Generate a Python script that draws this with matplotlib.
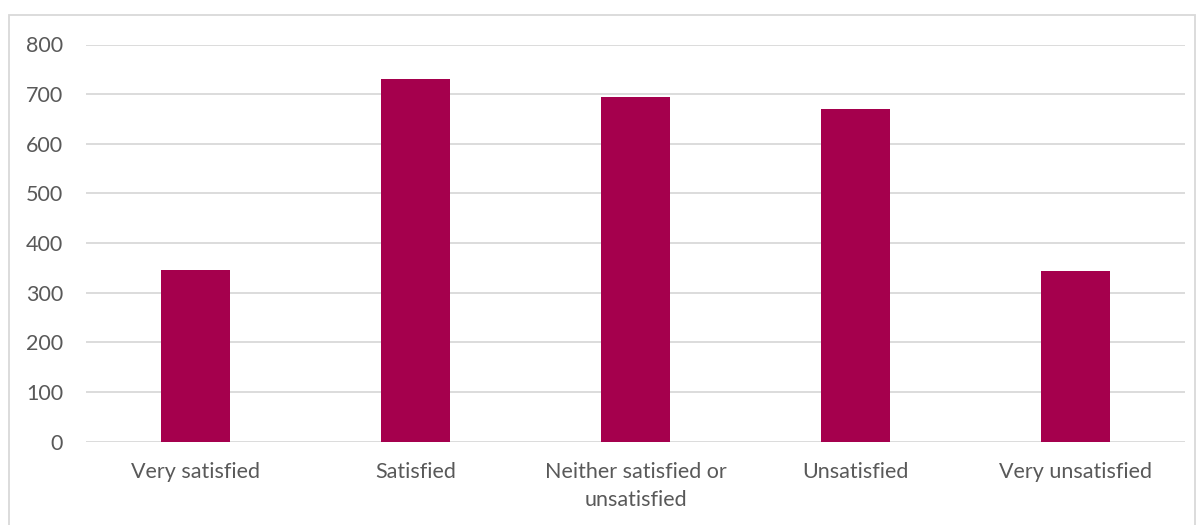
import matplotlib
matplotlib.use("Agg")
import matplotlib.pyplot as plt
from matplotlib.patches import Rectangle

categories = ["Very satisfied", "Satisfied", "Neither satisfied or\nunsatisfied",
              "Unsatisfied", "Very unsatisfied"]
responses = [345, 730, 695, 670, 344]
y_ticks = [0, 100, 200, 300, 400, 500, 600, 700, 800]

W, H = 1203, 525
fig = plt.figure(figsize=(W / 100, H / 100), dpi=100)
plt.rcParams['font.family'] = ['Lato', 'DejaVu Sans']

# chart frame
fig.patches.append(Rectangle((9 / W, -0.05), (1195 - 9) / W, 1 - 15 / H + 0.05,
                             transform=fig.transFigure, fill=False,
                             edgecolor="#d9d9d9", linewidth=1.3))

ax = fig.add_axes([86 / W, 1 - 441.5 / H, (1185 - 86) / W, (441.5 - 44.5) / H])
x = range(len(categories))
ax.bar(x, responses, width=0.314, color="#a5004d", zorder=3)
ax.set_xlim(-0.5, len(categories) - 0.5)
ax.set_ylim(0, 800)
ax.set_yticks(y_ticks)
ax.set_yticklabels([str(v) for v in y_ticks])
ax.set_xticks(list(x))
ax.set_xticklabels(categories, linespacing=1.5)
ax.grid(axis="y", color="#d9d9d9", linewidth=1.3, zorder=0)
for s in ax.spines.values():
    s.set_visible(False)
ax.tick_params(axis="both", length=0, labelsize=15.5, colors="#595959")
ax.tick_params(axis="y", pad=16.5)
ax.tick_params(axis="x", pad=15)

fig.savefig("out.png", dpi=100)
